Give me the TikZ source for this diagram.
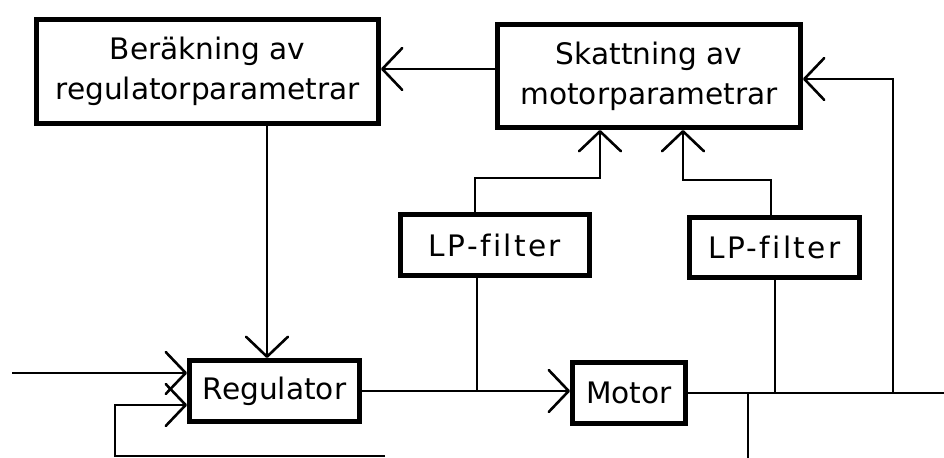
\documentclass[tikz,border=0pt]{standalone}
\usepackage{fontspec}
\setmainfont{DejaVu Sans}
\usetikzlibrary{arrows.meta}
\begin{document}
\begin{tikzpicture}[x=0.5pt,y=-0.5pt,
  blk/.style={draw, line width=2.5pt, rectangle, inner sep=0pt, align=center,
    font=\fontsize{14.8}{20}\selectfont},
  wire/.style={line width=1.3pt},
  arr/.style={wire, -{Straight Barb[length=10pt,width=21pt,round]}},
  lps/.style={font=\fontsize{14.8}{20}\selectfont\addfontfeature{LetterSpace=8,Ligatures=NoCommon}}
]
\useasboundingbox (0,0) rectangle (944,458);
\node[blk, minimum width=171pt, minimum height=52pt] (ber) at (207.5,71.5) {Beräkning av\\regulatorparametrar};
\node[blk, minimum width=151.5pt, minimum height=51.5pt] (sk) at (649,76) {Skattning av\\motorparametrar};
\node[blk, lps, minimum width=94.5pt, minimum height=30.5pt] (lp1) at (495,245) {LP-filter};
\node[blk, lps, minimum width=85pt, minimum height=30pt] (lp2) at (774.5,247.5) {LP-filter};
\node[blk, minimum width=85pt, minimum height=30.5pt] (reg) at (274.5,391) {Regulator};
\node[blk, minimum width=56.5pt, minimum height=30.5pt] (mot) at (629,393) {Motor};
\coordinate (out) at (944,0);
\coordinate (fbx) at (893,0);
\coordinate (in) at (12,0);
\coordinate (lowx) at (748,458);
\coordinate (bl) at (115,456);
\coordinate (br) at (385,456);
% estimation -> computation
\draw[arr] ([yshift=3.5pt]sk.west) coordinate (a1) -- (a1 -| ber.east);
% computation -> regulator
\draw[arr] ([xshift=29.75pt]ber.south) coordinate (b1) -- (b1 |- reg.north);
% regulator -> motor
\draw[arr] (reg.east) -- (reg.east -| mot.west);
% motor output
\draw[wire] (mot.east) -- (mot.east -| out);
% feedback to estimation
\draw[arr] (mot.east -| fbx) |- ([yshift=-1.5pt]sk.east);
% LP filters
\draw[wire] ([xshift=-9pt]lp1.south) |- (reg.east);
\draw[wire] ([xshift=0.25pt]lp2.south) |- (mot.east);
\draw[arr] ([xshift=-10pt]lp1.north) -- ++(0,-34) -| ([xshift=-24.5pt]sk.south);
\draw[arr] ([xshift=-1.75pt]lp2.north) -- ++(0,-35) -| ([xshift=17pt]sk.south);
% reference input
\path ([yshift=9pt]reg.west) coordinate (r1);
\draw[arr] (in |- r1) -- (r1);
% feedback loop
\draw[wire] (mot.east -| lowx) -- (lowx);
\path ([yshift=-7pt]reg.west) coordinate (r2);
\draw[arr] (br) -- (bl) |- (r2);
\end{tikzpicture}
\end{document}
